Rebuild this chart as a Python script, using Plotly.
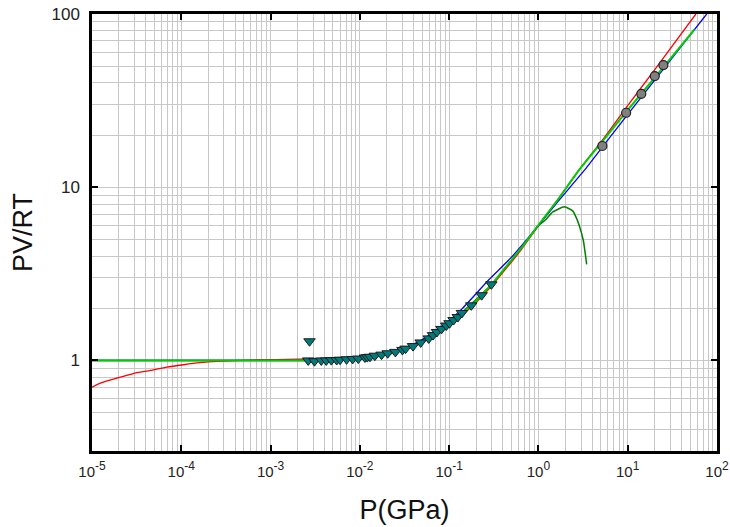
import plotly.graph_objects as go

# ---------------- data ----------------
tri_x = [2.64e-3, 3.1e-3, 3.7e-3, 4.2e-3, 4.8e-3, 5.5e-3, 6.0e-3, 7.1e-3, 8.3e-3, 9.6e-3,
         1.14e-2, 1.21e-2, 1.3e-2, 1.47e-2, 1.75e-2, 2.05e-2, 2.5e-2, 3.0e-2, 3.25e-2,
         3.94e-2, 4.8e-2, 5.9e-2, 6.6e-2, 7.3e-2, 8.2e-2, 9.3e-2, 0.101, 0.112, 0.125,
         0.139, 0.177, 0.231, 0.297]
tri_y = [1.0, 0.99, 1.0, 1.0, 1.004, 1.006, 1.01, 1.015, 1.02, 1.025,
         1.04, 1.045, 1.05, 1.065, 1.08, 1.1, 1.12, 1.15, 1.17,
         1.21, 1.27, 1.34, 1.4, 1.46, 1.52, 1.59, 1.64, 1.71, 1.78,
         1.88, 2.08, 2.38, 2.75]
tri_out_x = [2.73e-3]
tri_out_y = [1.29]

circ_x = [5.2, 9.6, 14.2, 20.1, 25.1]
circ_y = [17.3, 26.9, 34.6, 43.8, 50.7]

red_x = [1e-5, 1.24e-5, 1.9e-5, 2.9e-5, 4.5e-5, 6.9e-5, 1.06e-4, 1.63e-4, 2.5e-4, 5.9e-4,
         2.1e-3, 5e-3, 0.01, 0.02, 0.032, 0.05, 0.1, 0.18, 0.3, 0.4, 0.63, 1.0, 1.6,
         2.9, 5.2, 10, 20, 58]
red_y = [0.70, 0.74, 0.79, 0.84, 0.875, 0.915, 0.944, 0.97, 0.987, 1.005,
         1.017, 1.025, 1.035, 1.08, 1.15, 1.27, 1.6, 2.05, 2.7, 3.22, 4.3, 6.0, 8.3,
         12.7, 18.7, 29.6, 47.6, 100]

green_x = [1e-5, 1e-4, 1e-3, 2.5e-3, 5e-3, 0.01, 0.02, 0.032, 0.05, 0.07, 0.1, 0.14,
           0.18, 0.23, 0.3, 0.4, 0.63, 1.0, 1.6, 2.9, 5.2, 10, 20, 56]
green_y = [1.0, 1.0, 1.0, 1.0, 1.01, 1.025, 1.08, 1.16, 1.28, 1.43, 1.63, 1.88,
           2.08, 2.38, 2.75, 3.3, 4.4, 6.05, 8.3, 12.7, 18.4, 27.9, 42.8, 81.5]

blue_x = [1e-5, 1e-3, 2.5e-3, 5e-3, 0.01, 0.02, 0.032, 0.05, 0.1, 0.14, 0.28, 0.5,
          1.0, 1.6, 3.26, 6.3, 15.8, 76.7]
blue_y = [1.0, 1.0, 1.0, 1.01, 1.03, 1.09, 1.18, 1.32, 1.7, 1.99, 2.93, 3.95,
          6.0, 8.1, 12.5, 19.4, 35.5, 100]

dkgreen_x = [1e-5, 1e-3, 2.5e-3, 0.01, 0.032, 0.1, 0.3, 0.63, 1.0, 1.17, 1.45, 1.95,
             2.42, 2.63, 2.87, 3.18, 3.47]
dkgreen_y = [1.0, 1.0, 1.0, 1.025, 1.16, 1.63, 2.75, 4.4, 6.0, 6.4, 7.2, 7.7,
             7.3, 6.74, 6.0, 4.94, 3.59]

x_tickvals = [1e-5, 1e-4, 1e-3, 1e-2, 1e-1, 1e0, 1e1, 1e2]
x_exps = ["-5", "-4", "-3", "-2", "-1", "0", "1", "2"]
x_ticktext = ["10<sup><span style='font-size:12px'>%s</span></sup>" % e for e in x_exps]
y_tickvals = [1, 10, 100]
y_ticktext = ["1", "10", "100"]
x_minor = [k * 10.0 ** d for d in range(-5, 2) for k in range(2, 10)]
y_minor = [0.3, 0.4, 0.5, 0.6, 0.7, 0.8, 0.9] + [k * 10.0 ** d for d in range(0, 2) for k in range(2, 10)]

# ---------------- figure ----------------
fig = go.Figure()

def line(x, y, color, width):
    fig.add_trace(go.Scatter(x=x, y=y, mode="lines",
                             line=dict(color=color, width=width, shape="spline", smoothing=0.5),
                             showlegend=False, hoverinfo="skip"))

line(dkgreen_x, dkgreen_y, "#008000", 1.5)
line(red_x, red_y, "#ff0000", 1.3)
line(blue_x, blue_y, "#0000ff", 1.3)
line(green_x, green_y, "#00cc00", 2)

fig.add_trace(go.Scatter(x=tri_x + tri_out_x, y=tri_y + tri_out_y, mode="markers",
                         marker=dict(symbol="triangle-down", size=10, color="#007b7b",
                                     line=dict(color="#1a1a1a", width=1)),
                         showlegend=False))
fig.add_trace(go.Scatter(x=circ_x, y=circ_y, mode="markers",
                         marker=dict(symbol="circle", size=9, color="#808080",
                                     line=dict(color="#222222", width=1.2)),
                         showlegend=False))

FONT = "Liberation Sans, Arial, sans-serif"
grid_col = "#c8c8c8"
fig.update_xaxes(type="log", range=[-5, 2], tickmode="array", tickvals=x_tickvals, ticktext=x_ticktext,
                 showgrid=True, gridcolor=grid_col, gridwidth=1.2,
                 minor=dict(tickmode="array", tickvals=x_minor, showgrid=True, gridcolor=grid_col, gridwidth=1.2, ticks=""),
                 ticks="inside", ticklen=6, tickwidth=1.5, tickcolor="black",
                 showline=True, linecolor="black", linewidth=2.5, mirror="ticks",
                 tickfont=dict(family=FONT, size=15, color="#222"), ticklabeloverflow="allow",
                 ticklabelstandoff=5, zeroline=False, automargin=False,
                 title=dict(text="P(GPa)", font=dict(family=FONT, size=27, color="#111"), standoff=22))
fig.update_yaxes(type="log", range=[-0.5229, 2], tickmode="array", tickvals=y_tickvals, ticktext=y_ticktext,
                 showgrid=True, gridcolor=grid_col, gridwidth=1.2,
                 minor=dict(tickmode="array", tickvals=y_minor, showgrid=True, gridcolor=grid_col, gridwidth=1.2, ticks=""),
                 ticks="inside", ticklen=6, tickwidth=1.5, tickcolor="black",
                 showline=True, linecolor="black", linewidth=2.5, mirror="ticks",
                 tickfont=dict(family=FONT, size=17, color="#222"), ticklabeloverflow="allow",
                 ticklabelstandoff=6, zeroline=False, automargin=False,
                 title=dict(text="PV/RT", font=dict(family=FONT, size=27, color="#111"), standoff=12))

fig.update_layout(width=730, height=527, margin=dict(l=92, r=13, t=14, b=76),
                  plot_bgcolor="white", paper_bgcolor="white")

fig.write_html("out.html", config={"displayModeBar": False},
               post_script="document.body.style.margin='0px';document.body.style.overflow='hidden';")
